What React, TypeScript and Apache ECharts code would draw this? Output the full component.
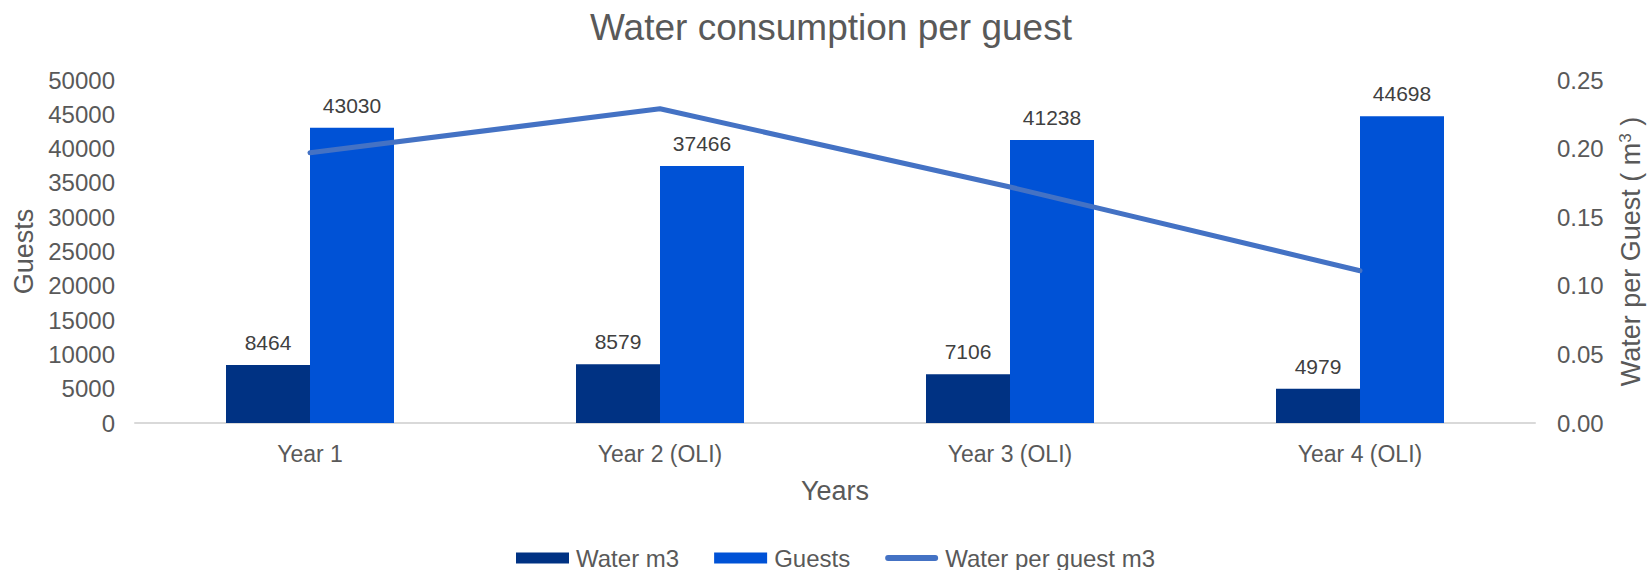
import React, { useEffect, useRef } from "react";
import * as echarts from "echarts";

const categories = ["Year 1", "Year 2 (OLI)", "Year 3 (OLI)", "Year 4 (OLI)"];
const waterM3 = [8464, 8579, 7106, 4979];
const guests = [43030, 37466, 41238, 44698];
const waterPerGuest = [0.197, 0.229, 0.172, 0.111];

const FONT = "'Liberation Sans', Arial, sans-serif";
const GRAY = "#595959";
const LINE_ICON =
  "path://M0,0 M54,11 M3,2.5 L51,2.5 A3,3 0 0 1 51,8.5 L3,8.5 A3,3 0 0 1 3,2.5 Z";

export default function App() {
  const ref = useRef<HTMLDivElement>(null);
  useEffect(() => {
    if (!ref.current) return;
    const chart = echarts.init(ref.current, null, { renderer: "svg" });
    chart.setOption({
      animation: false,
      textStyle: { fontFamily: FONT },
      title: {
        text: "Water consumption per guest",
        left: 826,
        textAlign: "center",
        top: 4,
        textStyle: { fontFamily: FONT, fontSize: 37, fontWeight: "normal", color: GRAY },
      },
      legend: {
        left: 516,
        top: 546,
        padding: 0,
        itemWidth: 53,
        itemHeight: 11,
        itemGap: 35,
        textStyle: { fontFamily: FONT, fontSize: 24, color: GRAY, padding: [0, 0, 0, 2] },
        data: [
          { name: "Water m3", icon: "rect" },
          { name: "Guests", icon: "rect" },
          { name: "Water per guest m3", icon: LINE_ICON },
        ],
      },
      grid: { left: 135, right: 109, top: 80, bottom: 147 },
      xAxis: {
        type: "category",
        data: categories,
        name: "Years",
        nameLocation: "middle",
        nameGap: 54,
        nameTextStyle: { fontFamily: FONT, fontSize: 27, color: GRAY },
        axisLine: { lineStyle: { color: "#D9D9D9", width: 2 } },
        axisTick: { show: false },
        axisLabel: { fontFamily: FONT, fontSize: 23, color: GRAY, margin: 19 },
      },
      yAxis: [
        {
          type: "value",
          min: 0,
          max: 50000,
          interval: 5000,
          name: "Guests",
          nameLocation: "middle",
          nameGap: 98,
          nameTextStyle: { fontFamily: FONT, fontSize: 27, color: GRAY },
          axisLine: { show: false },
          axisTick: { show: false },
          splitLine: { show: false },
          axisLabel: {
            fontFamily: FONT,
            fontSize: 24,
            color: GRAY,
            margin: 20,
            formatter: (v: number) => String(v),
          },
        },
        {
          type: "value",
          min: 0,
          max: 0.25,
          interval: 0.05,
          position: "right",
          name: "Water per Guest ( m{sup|3} )",
          nameLocation: "middle",
          nameGap: 82,
          nameTextStyle: {
            fontFamily: FONT,
            fontSize: 27,
            color: GRAY,
            rich: {
              sup: { fontFamily: FONT, fontSize: 17, color: GRAY, verticalAlign: "top", padding: [0, 0, 10, 0] },
            },
          },
          axisLine: { show: false },
          axisTick: { show: false },
          splitLine: { show: false },
          axisLabel: {
            fontFamily: FONT,
            fontSize: 24,
            color: GRAY,
            margin: 22,
            formatter: (v: number) => v.toFixed(2),
          },
        },
      ],
      series: [
        {
          name: "Water m3",
          type: "bar",
          data: waterM3,
          barWidth: 84,
          barGap: "0%",
          itemStyle: { color: "#003283" },
          label: { show: true, position: "top", distance: 12, fontFamily: FONT, fontSize: 21, color: "#404040" },
        },
        {
          name: "Guests",
          type: "bar",
          data: guests,
          barWidth: 84,
          barGap: "0%",
          itemStyle: { color: "#0052D6" },
          label: { show: true, position: "top", distance: 12, fontFamily: FONT, fontSize: 21, color: "#404040" },
        },
        {
          name: "Water per guest m3",
          type: "line",
          yAxisIndex: 1,
          data: waterPerGuest,
          showSymbol: false,
          symbol: "none",
          lineStyle: { color: "#4472C4", width: 5, cap: "round", join: "round" },
          itemStyle: { color: "#4472C4" },
        },
      ],
    });
    return () => chart.dispose();
  }, []);
  return (
    <div
      ref={ref}
      style={{ position: "fixed", left: 0, top: 0, width: 1652, height: 570, background: "#fff" }}
    />
  );
}
